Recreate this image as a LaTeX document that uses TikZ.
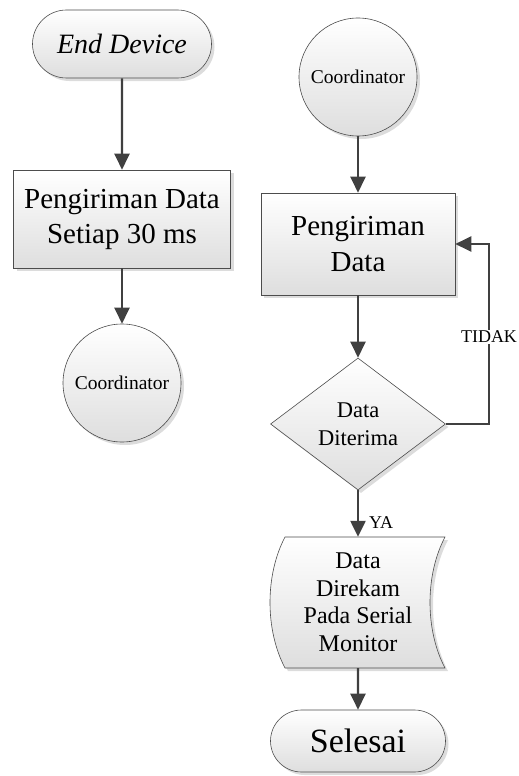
\documentclass[tikz,border=0pt]{standalone}
\usepackage{fontspec}
\setmainfont{Liberation Serif}
\usetikzlibrary{arrows.meta,shapes.geometric,shapes.misc,shadows}

\tikzset{
  base/.style={draw=black!70, line width=0.6pt, top color=white, bottom color=black!13,
    drop shadow={shadow xshift=3pt,shadow yshift=-3pt,fill=black!30,opacity=0.45},
    align=center, inner sep=0pt},
  term/.style={base, rounded rectangle},
  proc/.style={base, rectangle},
  conn/.style={base, circle, minimum size=118pt, font=\fontsize{19.5}{23}\selectfont},
  dec/.style={base, diamond, minimum width=175pt, minimum height=132pt, font=\fontsize{22.5}{28}\selectfont},
  flow/.style={draw=black!75, line width=2.4pt, -{Triangle[length=16pt,width=15pt]}},
  lbl/.style={font=\fontsize{18}{20}\selectfont, inner sep=1pt},
}

\begin{document}
\begin{tikzpicture}[x=1pt,y=-1pt]
\useasboundingbox (0,0) rectangle (519,776);

% left column
\node[term, minimum width=179pt, minimum height=68pt, font=\itshape\fontsize{28}{32}\selectfont] (endDev) at (122,44) {End Device};
\node[proc, minimum width=217pt, minimum height=98pt, font=\fontsize{29}{35}\selectfont] (sendL) at (122,219) {Pengiriman Data\\Setiap 30 ms};
\node[conn] (coordL) at (122,383) {Coordinator};

% right column
\node[conn] (coordR) at (358,77) {Coordinator};
\node[proc, minimum width=194pt, minimum height=102pt, font=\fontsize{29}{36}\selectfont] (sendR) at (358,244) {Pengiriman\\Data};
\node[dec] (decide) at (358,424) {Data\\Diterima};
% stored data
\draw[base] (285,537) -- (445,537) .. controls (425,575) and (425,630) .. (445,668)
  -- (285,668) .. controls (265,630) and (265,575) .. cycle;
\node[minimum width=160pt, minimum height=131pt, align=center, inner sep=0pt, font=\fontsize{24}{27.5}\selectfont] (store) at (358,602.5) {Data\\Direkam\\Pada Serial\\Monitor};
\node[term, minimum width=175pt, minimum height=62pt, font=\fontsize{34}{38}\selectfont] (done) at (358,741) {Selesai};

\draw[flow] (endDev) -- (sendL);
\draw[flow] (sendL) -- (coordL);
\draw[flow] (coordR) -- (sendR);
\draw[flow] (sendR) -- (decide);
\draw[flow] (decide) -- node[lbl, right, pos=0.7, xshift=9pt] (ya) {YA} (store);
\draw[flow] (store) -- (done);

\coordinate (loop) at (489,337);
\draw[flow] (decide.east) -| (loop) |- (sendR.east);
\node[lbl, fill=white] (tidak) at (loop) {TIDAK};
\end{tikzpicture}
\end{document}
